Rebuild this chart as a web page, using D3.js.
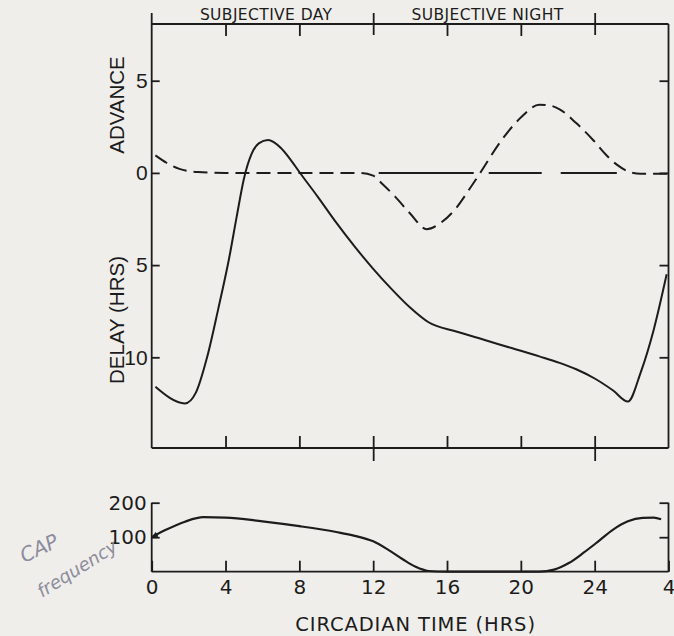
<!DOCTYPE html>
<html>
<head>
<meta charset="utf-8">
<script src="https://cdn.jsdelivr.net/npm/d3@7"></script>
<style>
  html, body { margin: 0; padding: 0; background: #f0eeea; }
  svg { display: block; }
</style>
</head>
<body>
<div id="chart"></div>
<script>
// phase shift curve (solid), hours; positive = advance, negative = delay
var shift_time  = [0.2, 1.8, 2.4, 3.0, 3.6, 4.2, 4.6, 5.0, 5.4, 5.8, 6.3, 7.0, 7.5, 8.0, 9, 10, 11, 12, 13, 14, 15, 16.5, 18, 19.5, 21, 22.1, 23, 24, 25, 25.8, 26.5, 27.2, 27.9];
var shift_value = [-11.6, -12.5, -11.9, -10.0, -7.4, -4.6, -2.4, -0.3, 1.0, 1.6, 1.78, 1.35, 0.75, 0.05, -1.3, -2.7, -4.0, -5.2, -6.3, -7.3, -8.1, -8.6, -9.05, -9.5, -9.95, -10.3, -10.65, -11.15, -11.8, -12.4, -10.8, -8.5, -5.5];

// dashed curve
var dash_time  = [0.2, 0.8, 1.5, 2.5, 4, 11.3, 12.0, 12.5, 13.2, 14.0, 14.9, 15.6, 16.5, 17.2, 17.8, 18.9, 20.0, 21.0, 21.6, 22.1, 23.0, 23.9, 24.6, 25.2, 25.9, 26.5, 28];
var dash_value = [0.95, 0.55, 0.22, 0.05, 0, 0, -0.15, -0.6, -1.3, -2.2, -3.05, -2.75, -1.9, -0.9, 0, 1.7, 3.0, 3.7, 3.65, 3.45, 2.7, 1.8, 1.0, 0.45, 0.05, -0.05, -0.05];

// zero reference line during subjective night
var zero_line = [12.3, 25.2];

// CAP frequency (lower panel)
var cap_time  = [0, 0.8, 1.8, 2.8, 4, 6, 8, 10, 11, 12, 12.8, 13.6, 14.3, 15.0, 16, 18, 20, 21.0, 21.8, 22.6, 23.4, 24.2, 25.0, 25.8, 26.6, 27.2, 27.6];
var cap_value = [100, 122, 145, 158, 157, 146, 132, 115, 104, 88, 64, 36, 14, 2, 0, 0, 0, 0, 6, 25, 55, 88, 122, 146, 156, 157, 152];

var hour_ticks   = [0, 4, 8, 12, 16, 20, 24, 28];
var hour_labels  = ["0", "4", "8", "12", "16", "20", "24", "4"];
var major_hours  = [12, 24];
var shift_ticks  = [5, 0, -5, -10];
var cap_ticks    = [200, 100];

var width_chart  = 674;
var height_chart = 636;
var ink          = "#1c1c1c";
var top_upper    = 24;
var bottom_upper = 448;

var x_chart = d3.scaleLinear().domain([0, 28]).range([151.7, 668.5]);
var y_shift = d3.scaleLinear().domain([-10, 5]).range([357.3, 80.7]);
var y_cap   = d3.scaleLinear().domain([0, 200]).range([571.7, 502.7]);

var svg_chart = d3.select("#chart").append("svg")
  .attr("width", width_chart)
  .attr("height", height_chart)
  .style("background", "#f0eeea");

svg_chart.append("defs").append("marker")
  .attr("id", "arrow")
  .attr("viewBox", "0 0 10 10")
  .attr("refX", 9).attr("refY", 5)
  .attr("markerWidth", 7).attr("markerHeight", 7)
  .attr("markerUnits", "userSpaceOnUse")
  .attr("orient", "auto-start-reverse")
  .append("path")
  .attr("d", "M0,1 L10,5 L0,9 Z")
  .attr("fill", ink);

function style_axis (g, family) {
  g.select(".domain").remove();
  g.selectAll(".tick line").attr("stroke", ink).attr("stroke-width", 1.8);
  g.selectAll(".tick text")
    .attr("fill", ink)
    .attr("font-family", family || "DejaVu Sans, sans-serif")
    .attr("font-size", 20);
}

// ---------- upper panel frame ----------
var x0 = x_chart(0), x1 = x_chart(28);
var frame = svg_chart.append("g").attr("stroke", ink).attr("stroke-width", 1.8).attr("fill", "none");
frame.append("line").attr("x1", x0).attr("x2", x0).attr("y1", top_upper - 11).attr("y2", bottom_upper);
frame.append("line").attr("x1", x0).attr("x2", x1).attr("y1", top_upper).attr("y2", top_upper);
frame.append("line").attr("x1", x1).attr("x2", x1).attr("y1", top_upper).attr("y2", bottom_upper);
frame.append("line").attr("x1", x0).attr("x2", x1).attr("y1", bottom_upper).attr("y2", bottom_upper);

// top axis
var top_axis = svg_chart.append("g")
  .attr("transform", "translate(0," + top_upper + ")")
  .call(d3.axisTop(x_chart).tickValues([4, 8, 12, 16, 20, 24]).tickSize(-12).tickFormat(""));
style_axis(top_axis);
top_axis.selectAll(".tick line").filter(function (d) { return major_hours.indexOf(d) >= 0; })
  .attr("y1", -11).attr("y2", 11);

// bottom axis of upper panel
var mid_axis = svg_chart.append("g")
  .attr("transform", "translate(0," + bottom_upper + ")")
  .call(d3.axisBottom(x_chart).tickValues([4, 8, 12, 16, 20, 24]).tickSize(-12).tickFormat(""));
style_axis(mid_axis);
mid_axis.selectAll(".tick line").filter(function (d) { return major_hours.indexOf(d) >= 0; })
  .attr("y1", 13).attr("y2", -12);

// left and right axes
var left_axis = svg_chart.append("g")
  .attr("transform", "translate(" + x0 + ",0)")
  .call(d3.axisLeft(y_shift).tickValues(shift_ticks).tickSize(-8).tickPadding(4)
    .tickFormat(function (d) { return Math.abs(d); }));
style_axis(left_axis, "Liberation Sans, Arial, sans-serif");
left_axis.selectAll(".tick text").attr("font-size", 21);

var right_axis = svg_chart.append("g")
  .attr("transform", "translate(" + x1 + ",0)")
  .call(d3.axisRight(y_shift).tickValues(shift_ticks).tickSize(-9).tickFormat(""));
style_axis(right_axis);

// header labels
var header = svg_chart.append("g")
  .attr("font-family", "DejaVu Sans, sans-serif")
  .attr("font-size", 15.5)
  .attr("letter-spacing", 0.4)
  .attr("fill", ink)
  .attr("text-anchor", "middle");
header.append("text").attr("x", x_chart(6.2)).attr("y", 19.5).text("SUBJECTIVE DAY");
header.append("text").attr("x", x_chart(18.2)).attr("y", 19.5).text("SUBJECTIVE NIGHT");

// y titles
var y_titles = svg_chart.append("g")
  .attr("font-family", "Liberation Sans, Arial, sans-serif")
  .attr("font-size", 20.5)
  .attr("fill", ink)
  .attr("text-anchor", "middle");
y_titles.append("text").attr("transform", "translate(124,105) rotate(-90)").text("ADVANCE");
y_titles.append("text").attr("transform", "translate(124,320) rotate(-90)").text("DELAY (HRS)");

// curves
var line_shift = d3.line()
  .curve(d3.curveMonotoneX)
  .x(function (d) { return x_chart(d[0]); })
  .y(function (d) { return y_shift(d[1]); });

svg_chart.append("path")
  .datum(d3.zip(dash_time, dash_value))
  .attr("d", line_shift)
  .attr("fill", "none")
  .attr("stroke", ink)
  .attr("stroke-width", 2)
  .attr("stroke-dasharray", "14,7");

svg_chart.append("line")
  .attr("x1", x_chart(zero_line[0])).attr("x2", x_chart(zero_line[1]))
  .attr("y1", y_shift(0)).attr("y2", y_shift(0))
  .attr("stroke", ink)
  .attr("stroke-width", 2)
  .attr("stroke-dasharray", "95,15,53,19,60");

svg_chart.append("path")
  .datum(d3.zip(shift_time, shift_value))
  .attr("d", line_shift)
  .attr("fill", "none")
  .attr("stroke", ink)
  .attr("stroke-width", 2);

// ---------- lower panel ----------
var low = svg_chart.append("g").attr("stroke", ink).attr("stroke-width", 1.8).attr("fill", "none");
low.append("line").attr("x1", x0).attr("x2", x0).attr("y1", y_cap(200)).attr("y2", y_cap(0));
low.append("line").attr("x1", x1).attr("x2", x1).attr("y1", y_cap(200)).attr("y2", y_cap(0));

var cap_left = svg_chart.append("g")
  .attr("transform", "translate(" + x0 + ",0)")
  .call(d3.axisLeft(y_cap).tickValues(cap_ticks).tickSize(-8).tickPadding(5));
style_axis(cap_left);

var cap_right = svg_chart.append("g")
  .attr("transform", "translate(" + x1 + ",0)")
  .call(d3.axisRight(y_cap).tickValues(cap_ticks).tickSize(-9).tickFormat(""));
style_axis(cap_right);

var cap_bottom = svg_chart.append("g")
  .attr("transform", "translate(0," + y_cap(0) + ")")
  .call(d3.axisBottom(x_chart).tickValues(hour_ticks).tickSize(-11).tickPadding(8)
    .tickFormat(function (d, i) { return hour_labels[i]; }));
cap_bottom.selectAll(".tick line").attr("stroke", ink).attr("stroke-width", 1.8);
cap_bottom.selectAll(".tick text")
  .attr("fill", ink)
  .attr("font-family", "DejaVu Sans, sans-serif")
  .attr("font-size", 20);
cap_bottom.select(".domain")
  .attr("stroke", ink).attr("stroke-width", 1.8)
  .attr("d", "M" + x0 + ",0H" + x1);

var line_cap = d3.line()
  .curve(d3.curveMonotoneX)
  .x(function (d) { return x_chart(d[0]); })
  .y(function (d) { return y_cap(d[1]); });

svg_chart.append("path")
  .datum(d3.zip(cap_time, cap_value))
  .attr("d", line_cap)
  .attr("fill", "none")
  .attr("stroke", ink)
  .attr("stroke-width", 2.2)
  .attr("marker-start", "url(#arrow)");

// x title
svg_chart.append("text")
  .attr("x", 415.6)
  .attr("y", 631)
  .attr("text-anchor", "middle")
  .attr("font-family", "DejaVu Sans, sans-serif")
  .attr("font-size", 19.5)
  .attr("letter-spacing", 0.9)
  .attr("fill", ink)
  .text("CIRCADIAN TIME (HRS)");

// pencil note
var note = svg_chart.append("g")
  .attr("font-family", "DejaVu Sans, sans-serif")
  .attr("font-style", "italic")
  .attr("fill", "#8c8c9c");
note.append("text").attr("transform", "translate(24,563) rotate(-25)").attr("font-size", 20).text("CAP");
note.append("text").attr("transform", "translate(42,598) rotate(-32)").attr("font-size", 18).text("frequency");
</script>
</body>
</html>
